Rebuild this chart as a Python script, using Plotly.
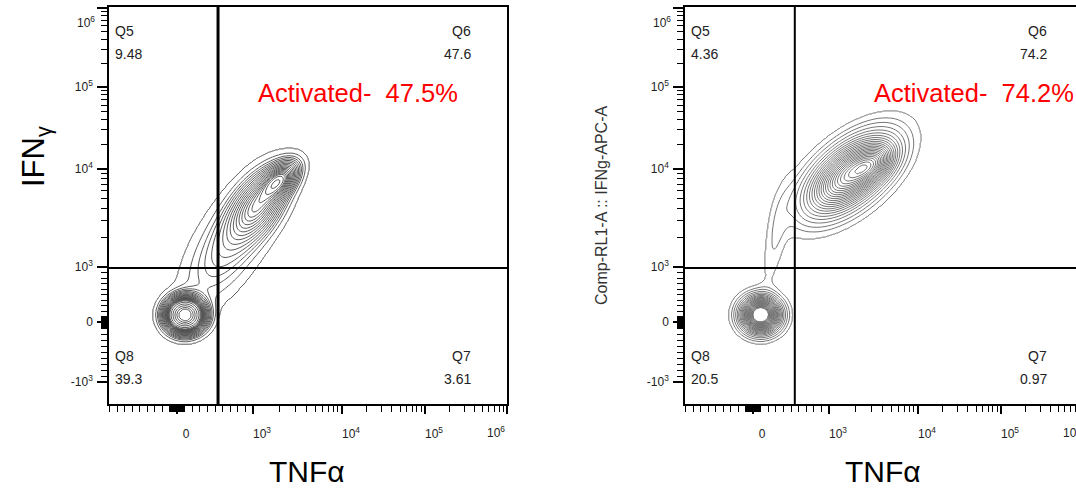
import numpy as np
import plotly.graph_objects as go

# ---------------- data ----------------
# Axis scale (biexponential display): value -> display units
SCALE_VALUES = [-1000, 0, 1000, 1e4, 1e5, 1e6]
X_DISPLAY = [-7, 68, 144, 233, 316, 398]
Y_DISPLAY = [22, 82, 137, 235, 317, 396]

X_TICK_VALUES = [0, 1e3, 1e4, 1e5, 1e6]
X_TICK_LABELS = ["0", "10<sup>3</sup>", "10<sup>4</sup>", "10<sup>5</sup>", ""]
Y_TICK_VALUES = [-1e3, 0, 1e3, 1e4, 1e5, 1e6]
Y_TICK_LABELS = ["-10<sup>3</sup>", "0", "10<sup>3</sup>", "10<sup>4</sup>", "10<sup>5</sup>", ""]
EDGE_LABEL = "10<sup>6</sup>"

# Populations
# (TNFa value, IFNg value, spread along major/minor axis in display units, angle deg, weight)
LEFT_TNF = [105, 680, 1138, 2010]
LEFT_IFN = [127, 1700, 4300, 7730]
LEFT_SD_MAJOR = [11, 44, 25, 14]
LEFT_SD_MINOR = [10, 19, 13, 8]
LEFT_ANGLE = [0, 58, 55, 45]
LEFT_WEIGHT = [0.37, 0.24, 0.28, 0.10]

RIGHT_TNF = [100, 1700, 3300, 300]
RIGHT_IFN = [130, 8700, 11500, 2000]
RIGHT_SD_MAJOR = [12, 33, 16, 35]
RIGHT_SD_MINOR = [11, 17, 10, 7]
RIGHT_ANGLE = [0, 40, 40, 80]
RIGHT_WEIGHT = [0.20, 0.64, 0.06, 0.02]

# Quadrant gates
LEFT_GATE = (540, 980)
RIGHT_GATE = (550, 980)

LEFT_QUADS = {"Q5": "9.48", "Q6": "47.6", "Q7": "3.61", "Q8": "39.3"}
RIGHT_QUADS = {"Q5": "4.36", "Q6": "74.2", "Q7": "0.97", "Q8": "20.5"}
LEFT_ACTIVATED = "Activated-  47.5%"
RIGHT_ACTIVATED = "Activated-  74.2%"

# equal-probability contour levels (fraction of events enclosed)
LEVEL_FRACTIONS = [0.97, 0.93, 0.89, 0.85, 0.81, 0.77, 0.73, 0.69, 0.65, 0.61, 0.57,
                   0.53, 0.49, 0.45, 0.41, 0.37, 0.33, 0.29, 0.25, 0.21, 0.17, 0.13, 0.09, 0.05]


# ---------------- helpers ----------------
def scale(v, disp):
    v = np.asarray(v, dtype=float)
    out = np.empty_like(v)
    low = v < 1000
    vl = v[low]
    out[low] = np.where(vl < 0,
                        disp[1] + vl / 1000.0 * (disp[1] - disp[0]),
                        disp[1] + vl / 1000.0 * (disp[2] - disp[1]))
    hv = np.log10(np.maximum(v[~low], 1000.0))
    out[~low] = np.interp(hv, [3, 4, 5, 6], disp[2:])
    return out


def minor_values():
    vals = []
    for s in (-1, 1):
        for k in range(1, 10):
            vals.append(s * k * 10)
            vals.append(s * k * 100)
    for n in (3, 4, 5):
        for k in range(2, 10):
            vals.append(k * 10 ** n)
    return vals


def density(tnf, ifn, smaj, smin, ang, w, gx, gy):
    X, Y = np.meshgrid(gx, gy)
    cx = scale(tnf, X_DISPLAY)
    cy = scale(ifn, Y_DISPLAY)
    d = np.zeros_like(X)
    for i in range(len(tnf)):
        a = np.deg2rad(ang[i])
        dx, dy = X - cx[i], Y - cy[i]
        u = dx * np.cos(a) + dy * np.sin(a)
        v = -dx * np.sin(a) + dy * np.cos(a)
        d += w[i] / (2 * np.pi * smaj[i] * smin[i]) * np.exp(-0.5 * ((u / smaj[i]) ** 2 + (v / smin[i]) ** 2))
    return d


def level_index(d):
    flat = np.sort(d.ravel())[::-1]
    cum = np.cumsum(flat)
    cum /= cum[-1]
    levs = [flat[np.searchsorted(cum, f)] for f in LEVEL_FRACTIONS]  # ascending density
    idx = np.arange(1, len(levs) + 1, dtype=float)
    z = np.interp(np.log(d + 1e-300), np.log(levs), idx, left=0.0, right=len(levs) + 1.0)
    return z, len(levs)


W, H = 1076, 493
FONT = "Arial, Liberation Sans, sans-serif"
fig = go.Figure()

panels = [
    dict(xa="x", ya="y", dom=[109 / W, 507 / W], xr=[0, 398], off=0, act_x=358,
         pops=(LEFT_TNF, LEFT_IFN, LEFT_SD_MAJOR, LEFT_SD_MINOR, LEFT_ANGLE, LEFT_WEIGHT),
         gate=LEFT_GATE, gw=3, quads=LEFT_QUADS, act=LEFT_ACTIVATED, mirror_y=True, lc="#4a4a4a"),
    dict(xa="x2", ya="y2", dom=[685 / W, 1.0], xr=[0, 391], off=576, act_x=974,
         pops=(RIGHT_TNF, RIGHT_IFN, RIGHT_SD_MAJOR, RIGHT_SD_MINOR, RIGHT_ANGLE, RIGHT_WEIGHT),
         gate=RIGHT_GATE, gw=2, quads=RIGHT_QUADS, act=RIGHT_ACTIVATED, mirror_y=False, lc="#666666"),
]

gx = np.arange(0, 399, 1.0)
gy = np.arange(0, 398, 1.0)
minors = minor_values()

for i, p in enumerate(panels):
    d = density(*p["pops"], gx, gy)
    z, n = level_index(d)
    fig.add_trace(go.Contour(
        x=gx, y=gy, z=z, xaxis=p["xa"], yaxis=p["ya"],
        contours=dict(start=1, end=n, size=1, coloring="none"),
        line=dict(color=p["lc"], width=0.9), showscale=False, hoverinfo="skip"))

    sfx = "" if i == 0 else "2"
    xaxis = dict(domain=p["dom"], range=p["xr"], showgrid=False, zeroline=False,
                 showline=True, linecolor="black", linewidth=1.5, mirror=True,
                 tickmode="array", tickvals=list(scale(X_TICK_VALUES, X_DISPLAY)), ticktext=X_TICK_LABELS,
                 ticks="outside", ticklen=8, tickwidth=2, tickcolor="black",
                 tickfont=dict(family=FONT, size=12, color="#222"), ticklabelstandoff=10,
                 ticklabelshift=9,
                 minor=dict(tickmode="array", tickvals=list(scale(minors, X_DISPLAY)),
                            ticks="outside", ticklen=6, tickwidth=1.2, tickcolor="black"),
                 anchor="y" + sfx)
    yaxis = dict(domain=[89 / H, 486 / H], range=[0, 397], showgrid=False, zeroline=False,
                 showline=True, linecolor="black", linewidth=1.5, mirror=p["mirror_y"],
                 tickmode="array", tickvals=list(scale(Y_TICK_VALUES, Y_DISPLAY)), ticktext=Y_TICK_LABELS,
                 ticks="outside", ticklen=10, tickwidth=2, tickcolor="black",
                 tickfont=dict(family=FONT, size=12, color="#222"), ticklabelstandoff=2,
                 minor=dict(tickmode="array", tickvals=list(scale(minors, Y_DISPLAY)),
                            ticks="outside", ticklen=6, tickwidth=1.2, tickcolor="black"),
                 anchor="x" + sfx)
    fig.update_layout(**{"xaxis" + sfx: xaxis, "yaxis" + sfx: yaxis})

    gxv = float(scale([p["gate"][0]], X_DISPLAY)[0])
    gyv = float(scale([p["gate"][1]], Y_DISPLAY)[0])
    fig.add_shape(type="line", xref=p["xa"], yref=p["ya"], x0=gxv, x1=gxv, y0=0, y1=397,
                  line=dict(color="black", width=p["gw"]))
    fig.add_shape(type="line", xref=p["xa"], yref=p["ya"], x0=0, x1=p["xr"][1], y0=gyv, y1=gyv,
                  line=dict(color="black", width=2))

    off = p["off"]
    q = p["quads"]
    qfont = dict(family=FONT, size=14, color="#222")
    for name, (px, py, xa) in {"Q5": (113, 31, "left"), "Q6": (473, 31, "right"),
                               "Q8": (113, 356, "left"), "Q7": (473, 356, "right")}.items():
        fig.add_annotation(x=(px + off) / W, y=1 - py / H, xref="paper", yref="paper", text=name,
                           showarrow=False, xanchor=xa, yanchor="middle", font=qfont)
        fig.add_annotation(x=(px + off) / W, y=1 - (py + 23) / H, xref="paper", yref="paper", text=q[name],
                           showarrow=False, xanchor=xa, yanchor="middle", font=qfont)
    fig.add_annotation(x=p["act_x"] / W, y=1 - 93 / H, xref="paper", yref="paper", text=p["act"],
                       showarrow=False, xanchor="center", yanchor="middle",
                       font=dict(family=FONT, size=25.5, color="#ff0000"))
    fig.add_annotation(x=(307 + off) / W, y=1 - 471 / H, xref="paper", yref="paper", text="TNFα",
                       showarrow=False, xanchor="center", yanchor="middle",
                       font=dict(family=FONT, size=30, color="black"))
    # top y tick label (drawn just below its tick, as in the reference)
    fig.add_annotation(x=(97 + off) / W, y=1 - 22 / H, xref="paper", yref="paper", text=EDGE_LABEL,
                       showarrow=False, xanchor="right", yanchor="middle",
                       font=dict(family=FONT, size=12, color="#222"))
    # right-most x tick label (drawn just inside the axis end, as in the reference)
    fig.add_annotation(x=(485 + off) / W, y=1 - 432 / H, xref="paper", yref="paper", text=EDGE_LABEL,
                       showarrow=False, xanchor="left", yanchor="middle",
                       font=dict(family=FONT, size=12, color="#222"))

fig.add_annotation(x=36 / W, y=1 - 157 / H, xref="paper", yref="paper", text="IFN<sub>γ</sub>",
                   showarrow=False, textangle=-90, xanchor="center", yanchor="middle",
                   font=dict(family=FONT, size=31, color="black"))
fig.add_annotation(x=601 / W, y=1 - 206 / H, xref="paper", yref="paper", text="Comp-RL1-A :: IFNg-APC-A",
                   showarrow=False, textangle=-90, xanchor="center", yanchor="middle",
                   font=dict(family=FONT, size=16, color="#333"))

fig.update_layout(width=W, height=H, margin=dict(l=0, r=0, t=0, b=0),
                  plot_bgcolor="white", paper_bgcolor="white", showlegend=False)

fig.write_html("out.html", config={"displayModeBar": False},
               post_script="document.body.style.margin='0px';document.body.style.overflow='hidden';")
